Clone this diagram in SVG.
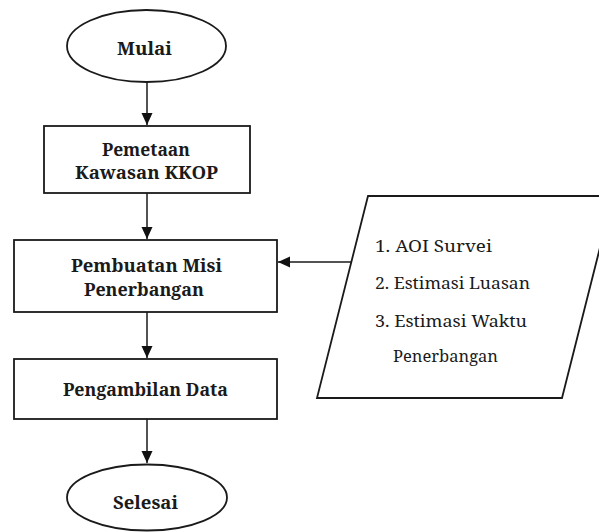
<svg xmlns="http://www.w3.org/2000/svg" width="599" height="532" viewBox="0 0 599 532">
  <style>
    .shape { fill: none; stroke: #1a1a1a; stroke-width: 1.8; }
    .edge { fill: none; stroke: #1a1a1a; stroke-width: 1.5; marker-end: url(#arrow); }
    text { font-family: "Noto Serif", "DejaVu Serif", serif; fill: #1a1a1a; }
    .lbl { font-weight: bold; font-size: 18.5px; text-anchor: middle; }
    .item { font-size: 17px; }
  </style>
  <defs>
    <marker id="arrow" markerUnits="userSpaceOnUse" markerWidth="12" markerHeight="12" refX="12" refY="6" orient="auto">
      <path d="M0,0.5 L12,6 L0,11.5 z" fill="#111"/>
    </marker>
  </defs>

  <rect width="599" height="532" fill="#ffffff"/>

  <g id="connectors">
    <line class="edge" x1="147" y1="82" x2="147" y2="125"/>
    <line class="edge" x1="147" y1="193" x2="147" y2="239"/>
    <line class="edge" x1="147" y1="312" x2="147" y2="358"/>
    <line class="edge" x1="147" y1="419" x2="147" y2="463"/>
    <line class="edge" x1="351" y1="262" x2="278" y2="262"/>
  </g>

  <g id="mulai">
    <ellipse class="shape" cx="146.5" cy="46" rx="79.5" ry="36"/>
    <text class="lbl" x="144.5" y="55" textLength="55" lengthAdjust="spacingAndGlyphs">Mulai</text>
  </g>

  <g id="pemetaan">
    <rect class="shape" x="44" y="126" width="206" height="67"/>
    <text class="lbl" x="146" y="156" textLength="88" lengthAdjust="spacingAndGlyphs">Pemetaan</text>
    <text class="lbl" x="146.5" y="179" textLength="143" lengthAdjust="spacingAndGlyphs">Kawasan KKOP</text>
  </g>

  <g id="pembuatan-misi">
    <rect class="shape" x="14" y="240" width="263" height="72"/>
    <text class="lbl" x="146.5" y="272" textLength="151" lengthAdjust="spacingAndGlyphs">Pembuatan Misi</text>
    <text class="lbl" x="144" y="296" textLength="120" lengthAdjust="spacingAndGlyphs">Penerbangan</text>
  </g>

  <g id="pengambilan-data">
    <rect class="shape" x="14" y="359" width="263" height="60"/>
    <text class="lbl" x="145.5" y="396" textLength="165" lengthAdjust="spacingAndGlyphs">Pengambilan Data</text>
  </g>

  <g id="selesai">
    <ellipse class="shape" cx="147" cy="497.5" rx="80" ry="33"/>
    <text class="lbl" x="145.5" y="509" textLength="65" lengthAdjust="spacingAndGlyphs">Selesai</text>
  </g>

  <g id="input-data">
    <polygon class="shape" points="368,196 613,196 562,398 317,398"/>
    <text class="item" x="375" y="252" textLength="117" lengthAdjust="spacingAndGlyphs">1. AOI Survei</text>
    <text class="item" x="375" y="289" textLength="155" lengthAdjust="spacingAndGlyphs">2. Estimasi Luasan</text>
    <text class="item" x="375" y="327" textLength="152" lengthAdjust="spacingAndGlyphs">3. Estimasi Waktu</text>
    <text class="item" x="393" y="362" textLength="105" lengthAdjust="spacingAndGlyphs">Penerbangan</text>
  </g>
</svg>
